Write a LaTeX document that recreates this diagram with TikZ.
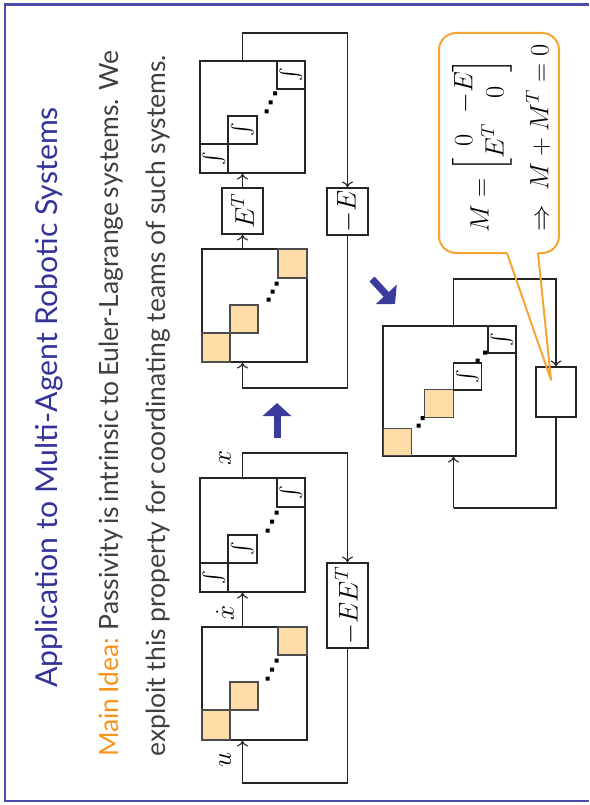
\RequirePackage{fix-cm}
\documentclass[tikz,border=0pt]{standalone}
\usepackage{amsmath}
\usepackage{fontspec}
\newfontfamily\slidefont{Lato}
\usetikzlibrary{arrows.meta}
\definecolor{titleblue}{RGB}{51,51,153}
\definecolor{frameblue}{RGB}{75,75,170}
\definecolor{ideaorange}{RGB}{247,148,30}
\definecolor{bodygray}{RGB}{64,64,64}
\definecolor{peach}{RGB}{254,220,168}
\definecolor{callorange}{RGB}{247,165,50}
\definecolor{arrowblue}{RGB}{59,59,155}
\tikzset{
  blockbox/.style={draw=black!85, line width=1.1pt, inner sep=0pt},
  sq/.style={draw=black!70, line width=1.1pt, fill=peach, inner sep=0pt},
  intbox/.style={draw=black!85, line width=1.1pt, inner sep=0pt, rotate=90, font=\fontsize{20}{24}\selectfont},
  gainbox/.style={draw=black!85, line width=1.1pt, inner sep=0pt, rotate=90, font=\fontsize{27}{32}\selectfont},
  wire/.style={draw=black!85, line width=1.1pt},
  flow/.style={wire, -{To[length=6pt,width=11pt]}},
  siglabel/.style={rotate=90, inner sep=0pt, font=\fontsize{27}{30}\selectfont},
  bigarrow/.style={draw=arrowblue, line width=7pt, -{Triangle[length=13pt,width=28pt]}},
  callout/.style={draw=callorange, line width=2pt, line join=round},
  eqtext/.style={rotate=90, anchor=west, inner sep=0pt, font=\fontsize{26.5}{30}\selectfont},
}
\begin{document}
\begin{tikzpicture}[x=1pt,y=-1pt]
\useasboundingbox (0,0) rectangle (589,805);
% frame
\draw[frameblue, line width=2.5pt] (589,4.5) -- (5,4.5) -- (5,801) -- (589,801);
% title and text
\node[rotate=90, anchor=base west, inner sep=0pt, text=titleblue, font=\slidefont\fontsize{30.2}{36}\selectfont] (title) at (57,688) {Application to Multi-Agent Robotic Systems};
\node[rotate=90, anchor=base west, inner sep=0pt, text=bodygray, font=\slidefont\fontsize{26.5}{30}\selectfont] (line1) at (118,757) {\makebox[700pt][s]{\textcolor{ideaorange}{Main Idea:} Passivity is intrinsic to Euler-Lagrange systems. We}};
\node[rotate=90, anchor=base west, inner sep=0pt, text=bodygray, font=\slidefont\fontsize{26.5}{30}\selectfont] (line2) at (165,757) {exploit this property for coordinating teams of such systems.};

% ---------- top-left loop: D, E^T, C, -E
\node[blockbox, minimum width=105pt, minimum height=112pt] (D) at (252.5,117) {};
\node[intbox, minimum width=29pt, minimum height=28pt] (D1) at (214,158.5) {$\int$};
\node[intbox, minimum width=28pt, minimum height=29pt] (D2) at (242.5,130) {$\int$};
\node[intbox, minimum width=28pt, minimum height=28pt] (D3) at (291,75) {$\int$};
\fill (264.5,109.5) rectangle ++(4,4) (268.5,100.5) rectangle ++(4,4) (273,91.5) rectangle ++(4,4);

\node[gainbox, minimum width=46pt, minimum height=41pt] (ET) at (242.5,211) {$E^T$};

\node[blockbox, minimum width=105pt, minimum height=113pt] (C) at (254.5,305.5) {};
\node[sq, minimum width=28pt, minimum height=29pt] (C1) at (216,347.5) {};
\node[sq, minimum width=28pt, minimum height=28pt] (C2) at (244,319) {};
\node[sq, minimum width=29pt, minimum height=29pt] (C3) at (292.5,263.5) {};
\fill (266.5,297.5) rectangle ++(4,4) (270.5,289.5) rectangle ++(4,4) (274.5,281.5) rectangle ++(4,4);

\node[gainbox, minimum width=47pt, minimum height=41pt] (mE) at (347.5,211.5) {$-E$};

\coordinate (t1) at (242.5,33);
\coordinate (t2) at (242.5,388);
\draw[flow] (C.north -| ET) -- (ET.west);
\draw[flow] (ET.east) -- (D.south -| ET);
\draw[flow] (D.north -| ET) -- (t1) -| (mE.east);
\draw[flow] (mE.west) |- (t2) -- (C.south -| ET);

% ---------- bottom-left loop: B, A, -EE^T
\node[blockbox, minimum width=105pt, minimum height=114pt] (B) at (252.5,535) {};
\node[intbox, minimum width=29pt, minimum height=28pt] (B1) at (214,577.5) {$\int$};
\node[intbox, minimum width=28pt, minimum height=29pt] (B2) at (242.5,549) {$\int$};
\node[intbox, minimum width=29pt, minimum height=28pt] (B3) at (291,492.5) {$\int$};
\fill (265.5,528.5) rectangle ++(4,4) (270,519.5) rectangle ++(4,4) (274.5,510.5) rectangle ++(4,4);

\node[blockbox, minimum width=105pt, minimum height=113pt] (A) at (254.5,683.5) {};
\node[sq, minimum width=28pt, minimum height=30pt] (A1) at (216,725) {};
\node[sq, minimum width=28pt, minimum height=28pt] (A2) at (244,696) {};
\node[sq, minimum width=29pt, minimum height=28pt] (A3) at (292.5,641) {};
\fill (265.5,676.5) rectangle ++(4,4) (270,667.5) rectangle ++(4,4) (274.5,658.5) rectangle ++(4,4);

\node[gainbox, minimum width=85pt, minimum height=41pt] (mEET) at (347.5,605.5) {$-EE^T$};

\coordinate (b1) at (242.5,453);
\coordinate (b2) at (242.5,783);
\draw[flow] (A.north -| ET) -- (B.south -| ET);
\draw[flow] (B.north -| ET) -- (b1) -| (mEET.east);
\draw[flow] (mEET.west) |- (b2) -- (A.south -| ET);
\node[siglabel] (xdot) at (225,613) {$\dot{x}$};
\node[siglabel] (xlab) at (225,458) {$x$};
\node[siglabel] (ulab) at (225,760) {$u$};

% ---------- blue arrows
\coordinate (ua1) at (277,438);
\coordinate (ua2) at (277,403);
\draw[bigarrow] (ua1) -- (ua2);
\coordinate (da1) at (372,279);
\coordinate (da2) at (395,304);
\draw[bigarrow] (da1) -- (da2);

% ---------- right loop: F, G
\node[blockbox, minimum width=133pt, minimum height=130pt] (F) at (449.5,391) {};
\node[sq, minimum width=28.5pt, minimum height=27.5pt] (F1) at (397.5,442) {};
\node[sq, minimum width=28.5pt, minimum height=27.5pt] (F2) at (439,403.5) {};
\node[intbox, minimum width=27pt, minimum height=28.5pt] (F3) at (467.5,376.5) {$\int$};
\node[intbox, minimum width=27pt, minimum height=28pt] (F4) at (502,339.5) {$\int$};
\fill (416.5,423.5) rectangle ++(4,4) (420.5,416) rectangle ++(4,4);
\fill (475.5,358.5) rectangle ++(4,4) (483,350.5) rectangle ++(4,4);

\node[blockbox, minimum width=40pt, minimum height=50pt] (G) at (556,392) {};
\coordinate (r1) at (453.5,279);
\coordinate (r2) at (453.5,508);
\draw[flow] (F.north -| r1) -- (r1) -| (G.north);
\draw[wire] (G.south) -- (G.south |- r2) -- (r2);
\draw[flow] (r2) -- (F.south -| r2);

% ---------- callout
\coordinate (p0) at (551,380);
\draw[callout] (507,253) -- (p0) -- (538,253);
\draw[callout, rounded corners=17pt] (538,253) -- (559,253) -- (559,33) -- (439,33) -- (439,253) -- (507,253);
\node[eqtext] (eq1) at (482,233) {$M = \begin{bmatrix} 0 & -E\\ E^T & 0\end{bmatrix}$};
\node[eqtext] (eq2) at (538,232) {$\Rightarrow\; M + M^T = 0$};
\end{tikzpicture}
\end{document}
